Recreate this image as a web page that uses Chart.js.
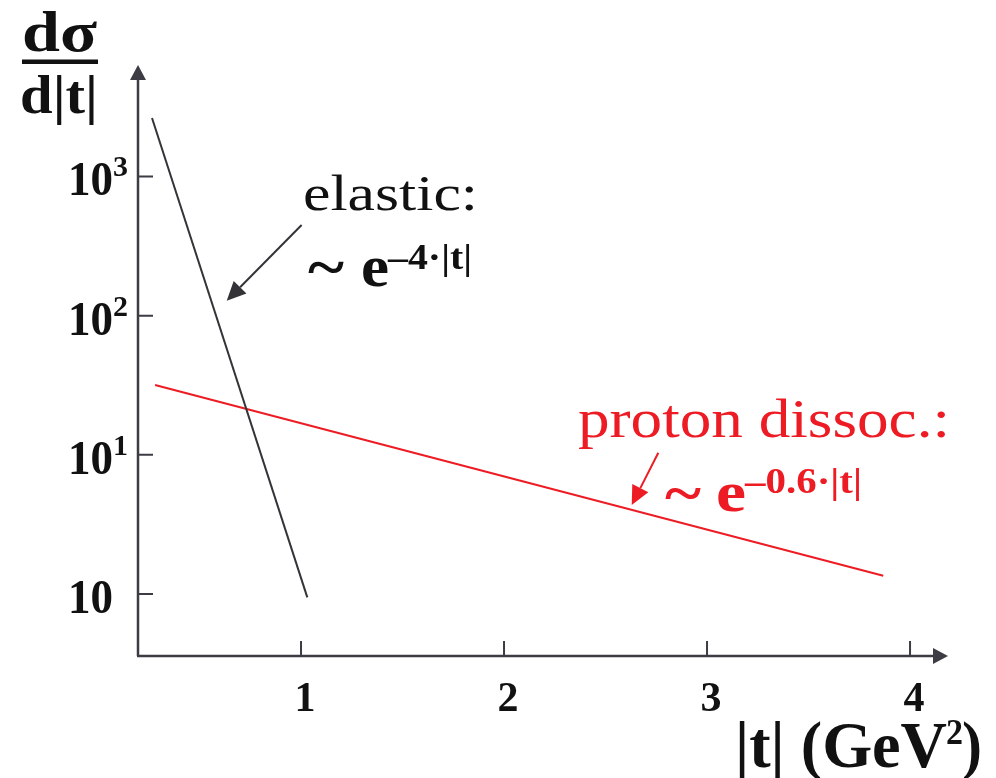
<!DOCTYPE html>
<html lang="en">
<head>
<meta charset="UTF-8">
<title>dσ/d|t| — elastic vs proton dissociation</title>
<script src="https://cdn.jsdelivr.net/npm/chart.js"></script>
<style>
    html, body { margin: 0; padding: 0; background: #fff; }
    #wrap { width: 996px; height: 778px; }
</style>
</head>
<body>
<div id="wrap"><canvas id="slopes" width="996" height="778"></canvas></div>
<script>
    // axis ticks (y is log10 of dσ/d|t|)
    const xTickValues = [1, 2, 3, 4];
    const yTickExponents = [0, 1, 2, 3];
    const yTickBase = ['10', '10', '10', '10'];
    const yTickSup = ['', '1', '2', '3'];

    // straight lines on the log plot: endpoints in |t| and log10(dσ/d|t|)
    const elasticT = [0.266, 1.031];
    const elasticLog = [3.42, -0.024];
    const dissocT = [0.281, 3.868];
    const dissocLog = [1.502, 0.131];

    // annotation arrows (tail -> head), same units
    const elasticArrowT = [1.003, 0.634];
    const elasticArrowLog = [2.651, 2.107];
    const dissocArrowT = [2.760, 2.629];
    const dissocArrowLog = [1.015, 0.639];

    const AXIS = '#3c3c44';
    const INK = '#111111';
    const RED = '#ed1c24';
    const SERIF = '"Liberation Serif", "Times New Roman", serif';

    const pts = (xs, ys) => xs.map((x, i) => ({ x: x, y: ys[i] }));

    // draw text squeezed/stretched to a fixed width
    function fitText(ctx, text, x, y, width, align) {
        const w = ctx.measureText(text).width;
        const sx = width ? width / w : 1;
        ctx.save();
        ctx.translate(align === 'right' ? x - w * sx : (align === 'center' ? x - w * sx / 2 : x), y);
        ctx.scale(sx, 1);
        ctx.textAlign = 'left';
        ctx.fillText(text, 0, 0);
        ctx.restore();
    }

    function arrow(ctx, x1, y1, x2, y2, len, half, color, lw) {
        const a = Math.atan2(y2 - y1, x2 - x1);
        const bx = x2 - Math.cos(a) * len, by = y2 - Math.sin(a) * len;
        ctx.strokeStyle = color;
        ctx.fillStyle = color;
        ctx.lineWidth = lw;
        ctx.beginPath();
        ctx.moveTo(x1, y1);
        ctx.lineTo(bx, by);
        ctx.stroke();
        ctx.beginPath();
        ctx.moveTo(x2, y2);
        ctx.lineTo(bx + Math.sin(a) * half, by - Math.cos(a) * half);
        ctx.lineTo(bx - Math.sin(a) * half, by + Math.cos(a) * half);
        ctx.closePath();
        ctx.fill();
    }

    const axesPlugin = {
        id: 'axesPlugin',
        beforeDatasetsDraw(chart) {
            const ctx = chart.ctx;
            const { left, right, top, bottom } = chart.chartArea;
            const xs = chart.scales.x, ys = chart.scales.y;
            ctx.save();
            // arrowed axes
            arrow(ctx, left, bottom, left, top, 15, 8, AXIS, 2.5);
            arrow(ctx, left - 1, bottom, right, bottom, 15, 8, AXIS, 2.5);
            // inward ticks
            ctx.strokeStyle = AXIS;
            ctx.lineWidth = 2;
            ctx.beginPath();
            yTickExponents.forEach(v => {
                const py = ys.getPixelForValue(v);
                ctx.moveTo(left, py);
                ctx.lineTo(left + 15, py);
            });
            xTickValues.forEach(v => {
                const px = xs.getPixelForValue(v);
                ctx.moveTo(px, bottom);
                ctx.lineTo(px, bottom - 15);
            });
            ctx.stroke();

            // tick labels
            ctx.fillStyle = INK;
            ctx.textBaseline = 'alphabetic';
            yTickExponents.forEach((v, i) => {
                const py = ys.getPixelForValue(v);
                ctx.font = 'bold 49px ' + SERIF;
                fitText(ctx, yTickBase[i], 113, py + 19, 45, 'right');
                if (yTickSup[i]) {
                    ctx.font = 'bold 30px ' + SERIF;
                    fitText(ctx, yTickSup[i], 113, py, 15, 'left');
                }
            });
            ctx.font = 'bold 42px ' + SERIF;
            xTickValues.forEach(v => {
                fitText(ctx, String(v), xs.getPixelForValue(v) + 4, 711, 0, 'center');
            });
            ctx.restore();
        },
        afterDraw(chart) {
            const ctx = chart.ctx;
            const xs = chart.scales.x, ys = chart.scales.y;
            const X = v => xs.getPixelForValue(v), Y = v => ys.getPixelForValue(v);
            ctx.save();
            ctx.textBaseline = 'alphabetic';

            // annotation arrows
            arrow(ctx, X(elasticArrowT[0]), Y(elasticArrowLog[0]), X(elasticArrowT[1]), Y(elasticArrowLog[1]), 19, 9, '#333338', 2);
            arrow(ctx, X(dissocArrowT[0]), Y(dissocArrowLog[0]), X(dissocArrowT[1]), Y(dissocArrowLog[1]), 19, 9, RED, 2);

            // y-axis title as a fraction
            ctx.fillStyle = INK;
            ctx.font = 'bold 56px ' + SERIF;
            fitText(ctx, 'dσ', 22, 51, 75);
            ctx.fillRect(22, 59.5, 76, 4.5);
            ctx.font = 'bold 54px ' + SERIF;
            fitText(ctx, 'd|t|', 20, 113, 78);

            // x-axis title
            ctx.font = 'bold 66px ' + SERIF;
            fitText(ctx, '|t| (GeV', 735, 767, 212);
            ctx.font = 'bold 36px ' + SERIF;
            fitText(ctx, '2', 946, 744, 17);
            ctx.font = 'bold 66px ' + SERIF;
            fitText(ctx, ')', 962, 767, 20);

            // elastic label
            ctx.font = '51px ' + SERIF;
            fitText(ctx, 'elastic:', 303, 210, 175);
            ctx.font = 'bold 60px ' + SERIF;
            fitText(ctx, '~', 308, 287, 36);
            fitText(ctx, 'e', 361, 286, 28);
            ctx.font = 'bold 35px ' + SERIF;
            fitText(ctx, '\u2013' + '4\u00b7|t|', 388, 269, 84);

            // proton dissociation label
            ctx.fillStyle = RED;
            ctx.font = '54px ' + SERIF;
            fitText(ctx, 'proton dissoc.:', 578, 437, 372);
            ctx.font = 'bold 56px ' + SERIF;
            fitText(ctx, '~', 665, 512, 36);
            fitText(ctx, 'e', 716, 511, 30);
            ctx.font = 'bold 35px ' + SERIF;
            fitText(ctx, '\u2013' + '0.6\u00b7|t|', 745, 493, 117);
            ctx.restore();
        }
    };

    new Chart(document.getElementById('slopes'), {
        type: 'scatter',
        data: {
            datasets: [
                {
                    label: 'elastic',
                    data: pts(elasticT, elasticLog),
                    showLine: true,
                    borderColor: '#333338',
                    borderWidth: 2,
                    pointRadius: 0
                },
                {
                    label: 'proton dissoc.',
                    data: pts(dissocT, dissocLog),
                    showLine: true,
                    borderColor: RED,
                    borderWidth: 2,
                    pointRadius: 0
                }
            ]
        },
        options: {
            responsive: false,
            animation: false,
            devicePixelRatio: 1,
            layout: { padding: { left: 138, right: 48, top: 65, bottom: 122 } },
            plugins: { legend: { display: false }, tooltip: { enabled: false } },
            scales: {
                x: { type: 'linear', min: 0.197, max: 4.187, display: false },
                y: { type: 'linear', min: -0.4455, max: 3.801, display: false }
            }
        },
        plugins: [axesPlugin]
    });
</script>
</body>
</html>
